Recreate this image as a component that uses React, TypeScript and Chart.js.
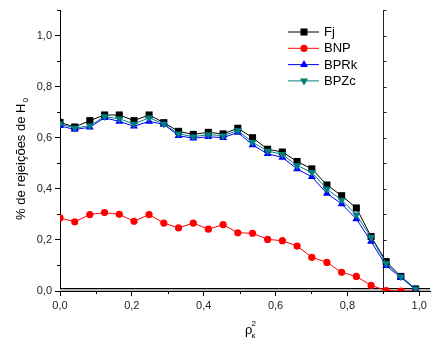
import React, { useEffect, useRef } from 'react';
import { Chart, registerables } from 'chart.js';

Chart.register(...registerables);

// ---- data ----
const rho2 = [0, 0.041, 0.083, 0.124, 0.165, 0.206, 0.248, 0.289, 0.33, 0.371, 0.413, 0.454, 0.495, 0.536, 0.578, 0.619, 0.66, 0.701, 0.743, 0.784, 0.825, 0.866, 0.908, 0.949, 0.99];
const fj = [0.660, 0.642, 0.667, 0.689, 0.689, 0.667, 0.689, 0.659, 0.625, 0.613, 0.621, 0.615, 0.637, 0.600, 0.555, 0.544, 0.507, 0.478, 0.415, 0.373, 0.325, 0.213, 0.115, 0.057, 0.008];
const bnp = [0.286, 0.271, 0.299, 0.307, 0.300, 0.273, 0.299, 0.266, 0.247, 0.266, 0.242, 0.260, 0.228, 0.226, 0.202, 0.197, 0.176, 0.132, 0.112, 0.073, 0.057, 0.022, 0.002, 0.0, 0.0];
const bprk = [0.647, 0.632, 0.641, 0.678, 0.664, 0.645, 0.664, 0.652, 0.608, 0.598, 0.604, 0.600, 0.621, 0.572, 0.537, 0.523, 0.478, 0.447, 0.382, 0.341, 0.282, 0.194, 0.099, 0.053, 0.005];
const bpzc = [0.654, 0.638, 0.647, 0.683, 0.674, 0.654, 0.678, 0.654, 0.615, 0.604, 0.612, 0.608, 0.628, 0.582, 0.548, 0.535, 0.491, 0.465, 0.399, 0.356, 0.298, 0.210, 0.108, 0.056, 0.008];
const seriesNames = ['Fj', 'BNP', 'BPRk', 'BPZc'];
const xTicks = [0, 0.2, 0.4, 0.6, 0.8, 1.0];
const yTicks = [0, 0.2, 0.4, 0.6, 0.8, 1.0];
const xMinorTicks = [0.1, 0.3, 0.5, 0.7, 0.9];
const yMinorTicks = [0.1, 0.3, 0.5, 0.7, 0.9, 1.1];
const refLineX = 0.9;
const yTitle = '% de rejeições de H';
const yTitleSub = '0';
const xTitle = 'ρ';
const xTitleSup = '2';
const xTitleSub = 'κ';

const FONT = '"Liberation Sans", Arial, sans-serif';
const fmt = (v: number) => v.toFixed(1).replace('.', ',');

function drawMarker(ctx: CanvasRenderingContext2D, style: string, rot: number, r: number, x: number, y: number, color: string) {
  ctx.fillStyle = color;
  ctx.beginPath();
  if (style === 'rect') {
    const s = r * Math.SQRT1_2;
    ctx.rect(x - s, y - s, 2 * s, 2 * s);
  } else if (style === 'circle') {
    ctx.arc(x, y, r, 0, Math.PI * 2);
  } else {
    let a = (rot * Math.PI) / 180;
    for (let k = 0; k < 3; k++) {
      const px = x + Math.sin(a) * r;
      const py = y - Math.cos(a) * r;
      if (k === 0) ctx.moveTo(px, py);
      else ctx.lineTo(px, py);
      a += (2 * Math.PI) / 3;
    }
    ctx.closePath();
  }
  ctx.fill();
}

export default function App() {
  const ref = useRef<HTMLCanvasElement>(null);

  useEffect(() => {
    document.body.style.margin = '0';
    const canvas = ref.current!;
    const mk = (vals: number[]) => rho2.map((xv, i) => ({ x: xv, y: vals[i] }));

    const decor = {
      id: 'decor',
      beforeDatasetsDraw(chart: any) {
        const { ctx, chartArea: a, scales } = chart;
        const x = scales.x, y = scales.y;
        ctx.save();
        const y0 = y.getPixelForValue(0);
        ctx.fillStyle = '#b8b8b8';
        ctx.fillRect(a.left, y0 - 3, a.right - a.left, 3);
        ctx.strokeStyle = '#000';
        ctx.lineWidth = 1;
        ctx.beginPath();
        ctx.moveTo(a.left, Math.round(y0) - 2.5);
        ctx.lineTo(a.right, Math.round(y0) - 2.5);
        ctx.stroke();
        // reference vertical line with right-side ticks
        const xv = Math.round(x.getPixelForValue(refLineX)) + 0.5;
        ctx.strokeStyle = '#222';
        ctx.beginPath();
        ctx.moveTo(xv, a.top);
        ctx.lineTo(xv, a.bottom);
        for (const v of [...yTicks, ...yMinorTicks]) {
          const py = Math.round(y.getPixelForValue(v)) + 0.5;
          ctx.moveTo(xv, py);
          ctx.lineTo(xv + 3, py);
        }
        ctx.stroke();
        ctx.restore();
      },
      afterDraw(chart: any) {
        const { ctx, chartArea: a, scales } = chart;
        const x = scales.x, y = scales.y;
        ctx.save();
        ctx.strokeStyle = '#000';
        ctx.lineWidth = 1;
        ctx.beginPath();
        for (const v of xMinorTicks) {
          const px = Math.round(x.getPixelForValue(v)) + 0.5;
          ctx.moveTo(px, a.bottom);
          ctx.lineTo(px, a.bottom + 3);
        }
        for (const v of yMinorTicks) {
          const py = Math.round(y.getPixelForValue(v)) + 0.5;
          ctx.moveTo(a.left - 3, py);
          ctx.lineTo(a.left, py);
        }
        ctx.stroke();

        // legend
        chart.data.datasets.forEach((ds: any, i: number) => {
          const ly = 32 + i * 16.3;
          ctx.strokeStyle = ds.borderColor;
          ctx.lineWidth = 1;
          ctx.beginPath();
          ctx.moveTo(288, ly);
          ctx.lineTo(319, ly);
          ctx.stroke();
          drawMarker(ctx, ds.pointStyle, ds.pointRotation || 0, ds.pointRadius, 304, ly, ds.pointBackgroundColor);
          ctx.fillStyle = '#000';
          ctx.font = `13px ${FONT}`;
          ctx.textBaseline = 'middle';
          ctx.textAlign = 'left';
          ctx.fillText(ds.label, 324, ly + 0.5);
        });

        // y title
        ctx.fillStyle = '#000';
        ctx.font = `13px ${FONT}`;
        ctx.textBaseline = 'alphabetic';
        ctx.textAlign = 'left';
        const w1 = ctx.measureText(yTitle).width;
        ctx.font = `8px ${FONT}`;
        const w2 = ctx.measureText(yTitleSub).width;
        const total = w1 + w2 + 1;
        ctx.save();
        ctx.translate(25, 159 + total / 2);
        ctx.rotate(-Math.PI / 2);
        ctx.font = `13px ${FONT}`;
        ctx.fillText(yTitle, 0, 0);
        ctx.font = `8px ${FONT}`;
        ctx.fillText(yTitleSub, w1 + 1, 3);
        ctx.restore();

        // x title
        ctx.font = `13px ${FONT}`;
        ctx.fillText(xTitle, 245, 334);
        ctx.font = `8px ${FONT}`;
        ctx.fillText(xTitleSup, 251.5, 326);
        ctx.fillText(xTitleSub, 251.5, 338);
        ctx.restore();
      },
    };

    const chart = new Chart(canvas, {
      type: 'line',
      data: {
        datasets: [
          { label: seriesNames[0], data: mk(fj), borderColor: '#000000', backgroundColor: '#000000', pointBackgroundColor: '#000000', pointBorderColor: '#000000', pointStyle: 'rect', pointRadius: 5, pointBorderWidth: 0, borderWidth: 1, order: 3 },
          { label: seriesNames[1], data: mk(bnp), borderColor: '#ff0000', backgroundColor: '#ff0000', pointBackgroundColor: '#ff0000', pointBorderColor: '#ff0000', pointStyle: 'circle', pointRadius: 3.6, pointBorderWidth: 0, borderWidth: 1, order: 2 },
          { label: seriesNames[2], data: mk(bprk), borderColor: '#0000ff', backgroundColor: '#0000ff', pointBackgroundColor: '#0000ff', pointBorderColor: '#0000ff', pointStyle: 'triangle', pointRadius: 4.6, pointBorderWidth: 0, borderWidth: 1, order: 1 },
          { label: seriesNames[3], data: mk(bpzc), borderColor: '#008080', backgroundColor: '#008080', pointBackgroundColor: '#008080', pointBorderColor: '#008080', pointStyle: 'triangle', pointRotation: 180, pointRadius: 4.6, pointBorderWidth: 0, borderWidth: 1, order: 0 },
        ] as any,
      },
      options: {
        responsive: false,
        animation: false,
        events: [],
        layout: { padding: { left: 0, top: 10, right: 2, bottom: 0 } },
        plugins: { legend: { display: false }, tooltip: { enabled: false }, title: { display: false } },
        scales: {
          x: {
            type: 'linear',
            min: 0,
            max: 1.03,
            afterBuildTicks: (s: any) => { s.ticks = xTicks.map((v) => ({ value: v })); },
            afterFit: (s: any) => { s.height = 48; },
            ticks: { callback: (v: any) => fmt(Number(v)), font: { size: 11, family: FONT }, color: '#222', padding: 3, maxRotation: 0, autoSkip: false },
            grid: { display: true, drawOnChartArea: false, drawTicks: true, tickLength: 5, color: '#000', lineWidth: 1 },
            border: { display: true, color: '#000', width: 1 },
          },
          y: {
            type: 'linear',
            min: 0,
            max: 1.1,
            afterBuildTicks: (s: any) => { s.ticks = yTicks.map((v) => ({ value: v })); },
            afterFit: (s: any) => { s.width = 60; },
            ticks: { callback: (v: any) => fmt(Number(v)), font: { size: 11, family: FONT }, color: '#222', padding: 3, autoSkip: false },
            grid: { display: true, drawOnChartArea: false, drawTicks: true, tickLength: 5, color: '#000', lineWidth: 1 },
            border: { display: true, color: '#000', width: 1 },
          },
        },
      } as any,
      plugins: [decor],
    });
    return () => chart.destroy();
  }, []);

  return (
    <div style={{ position: 'absolute', left: 0, top: 0, width: 435, height: 339, background: '#fff' }}>
      <canvas ref={ref} width={435} height={339} style={{ display: 'block' }} />
    </div>
  );
}
